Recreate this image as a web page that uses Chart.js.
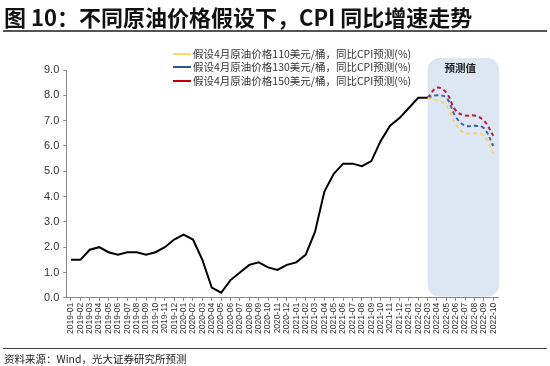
<!DOCTYPE html>
<html>
<head>
<meta charset="utf-8">
<script src="https://cdn.jsdelivr.net/npm/chart.js@4"></script>
<style>
  html, body { margin: 0; padding: 0; background: #fff; }
  #wrap { position: relative; width: 550px; height: 366px; overflow: hidden; font-family: "Noto Sans CJK SC", sans-serif; }
  #myChart { position: absolute; left: 0; top: 0; }
  .title { position: absolute; left: 4px; top: 2px; font-size: 22px; font-weight: bold; color: #111; white-space: nowrap; line-height: 28px; }
  .rule1 { position: absolute; left: 3px; right: 3px; top: 30px; height: 2px; background: #555; }
  .rule2 { position: absolute; left: 3px; right: 3px; top: 348px; height: 1px; background: #444; }
  .source { position: absolute; left: 4px; top: 352px; font-size: 10.5px; color: #222; line-height: 14px; white-space: nowrap; }
  .legend { position: absolute; left: 173px; top: 47px; font-size: 10.5px; color: #333; line-height: 13.3px; white-space: nowrap; }
  .legend .sw { display: inline-block; width: 18px; height: 2px; vertical-align: middle; margin-right: 2px; position: relative; top: -1px; }
</style>
</head>
<body>
<div id="wrap">
  <canvas id="myChart" width="550" height="366"></canvas>
  <div class="title">图 10：不同原油价格假设下，CPI 同比增速走势</div>
  <div class="rule1"></div>
  <div class="legend" id="legend"></div>
  <div class="rule2"></div>
  <div class="source">资料来源：Wind，光大证券研究所预测</div>
</div>
<script>
// 月份
const meses = [
  '2019-01','2019-02','2019-03','2019-04','2019-05','2019-06','2019-07','2019-08','2019-09','2019-10','2019-11','2019-12',
  '2020-01','2020-02','2020-03','2020-04','2020-05','2020-06','2020-07','2020-08','2020-09','2020-10','2020-11','2020-12',
  '2021-01','2021-02','2021-03','2021-04','2021-05','2021-06','2021-07','2021-08','2021-09','2021-10','2021-11','2021-12',
  '2022-01','2022-02','2022-03','2022-04','2022-05','2022-06','2022-07','2022-08','2022-09','2022-10'
]

// 实际 CPI 同比 (2019-01 ~ 2022-03)
const cpi_real = [
  1.5, 1.5, 1.9, 2.0, 1.8, 1.7, 1.8, 1.8, 1.7, 1.8, 2.0, 2.3,
  2.5, 2.3, 1.5, 0.4, 0.2, 0.7, 1.0, 1.3, 1.4, 1.2, 1.1, 1.3,
  1.4, 1.7, 2.6, 4.2, 4.9, 5.3, 5.3, 5.2, 5.4, 6.2, 6.8, 7.1,
  7.5, 7.9, 7.9
]

// 预测 (2022-03 ~ 2022-10)
const prev_110 = [7.9, 7.8, 7.6, 6.85, 6.5, 6.5, 6.4, 5.7]
const prev_130 = [7.9, 8.0, 7.9, 7.15, 6.8, 6.8, 6.7, 6.0]
const prev_150 = [7.9, 8.3, 8.1, 7.4, 7.2, 7.2, 7.0, 6.4]

const nomes = [
  '假设4月原油价格110美元/桶，同比CPI预测(%)',
  '假设4月原油价格130美元/桶，同比CPI预测(%)',
  '假设4月原油价格150美元/桶，同比CPI预测(%)'
]
const cores = ['#F5D27A', '#3B62AD', '#B8203A']
const cores_legenda = ['#FFD966', '#2F5597', '#C00000']

const inicio_prev = meses.indexOf('2022-03')

function serie_prev(vals){
  const arr = meses.map(() => null)
  vals.forEach((v, i) => { arr[inicio_prev + i] = v })
  return arr
}

// legenda
const leg = document.getElementById('legend')
nomes.forEach((n, i) => {
  const row = document.createElement('div')
  row.innerHTML = '<span class="sw" style="background:' + cores_legenda[i] + '"></span>' + n
  leg.appendChild(row)
})

// caixa "预测值"
const caixa = {
  id: 'caixa',
  beforeDatasetsDraw(chart){
    const { ctx, chartArea, scales } = chart
    const x0 = scales.x.getPixelForValue(inicio_prev)
    const x1 = chartArea.right + 1
    const y0 = chartArea.top - 12
    const y1 = chartArea.bottom - 1
    ctx.save()
    ctx.fillStyle = '#DDE7F3'
    ctx.beginPath()
    ctx.roundRect(x0, y0, x1 - x0, y1 - y0, 12)
    ctx.fill()
    ctx.fillStyle = '#222'
    ctx.font = 'bold 10.5px "Noto Sans CJK SC"'
    ctx.textAlign = 'center'
    ctx.textBaseline = 'middle'
    ctx.fillText('预测值', (x0 + x1) / 2 - 3, y0 + 10)
    ctx.restore()
  }
}

const ctx = document.getElementById('myChart')

const datasets = [{
  label: '实际',
  data: cpi_real,
  borderColor: '#000',
  borderWidth: 2,
  pointRadius: 0,
  tension: 0
}]
;[prev_110, prev_130, prev_150].forEach((v, i) => {
  datasets.push({
    label: nomes[i],
    data: serie_prev(v),
    borderColor: cores[i],
    borderWidth: 2,
    borderDash: [4, 3],
    pointRadius: 0,
    tension: 0.4
  })
})

const config = {
  type: 'line',
  data: { labels: meses, datasets: datasets },
  options: {
    responsive: false,
    animation: false,
    layout: { padding: { left: 40, right: 52, top: 70, bottom: 30 } },
    plugins: { legend: { display: false }, tooltip: { enabled: false } },
    scales: {
      x: {
        offset: true,
        grid: { display: true, drawOnChartArea: false, color: '#888', tickLength: 3 },
        border: { color: '#888' },
        ticks: {
          autoSkip: false, maxRotation: 90, minRotation: 90, padding: 2,
          color: '#333', font: { family: 'Liberation Sans', size: 8.5 }
        }
      },
      y: {
        min: 0, max: 9,
        grid: { display: true, drawOnChartArea: false, color: '#888', tickLength: 3 },
        border: { color: '#888' },
        ticks: {
          stepSize: 1, padding: 4, color: '#333',
          font: { family: 'Liberation Sans', size: 11 },
          callback: v => v.toFixed(1)
        }
      }
    }
  },
  plugins: [caixa]
}

const myChart = new Chart(ctx, config)
</script>
</body>
</html>
